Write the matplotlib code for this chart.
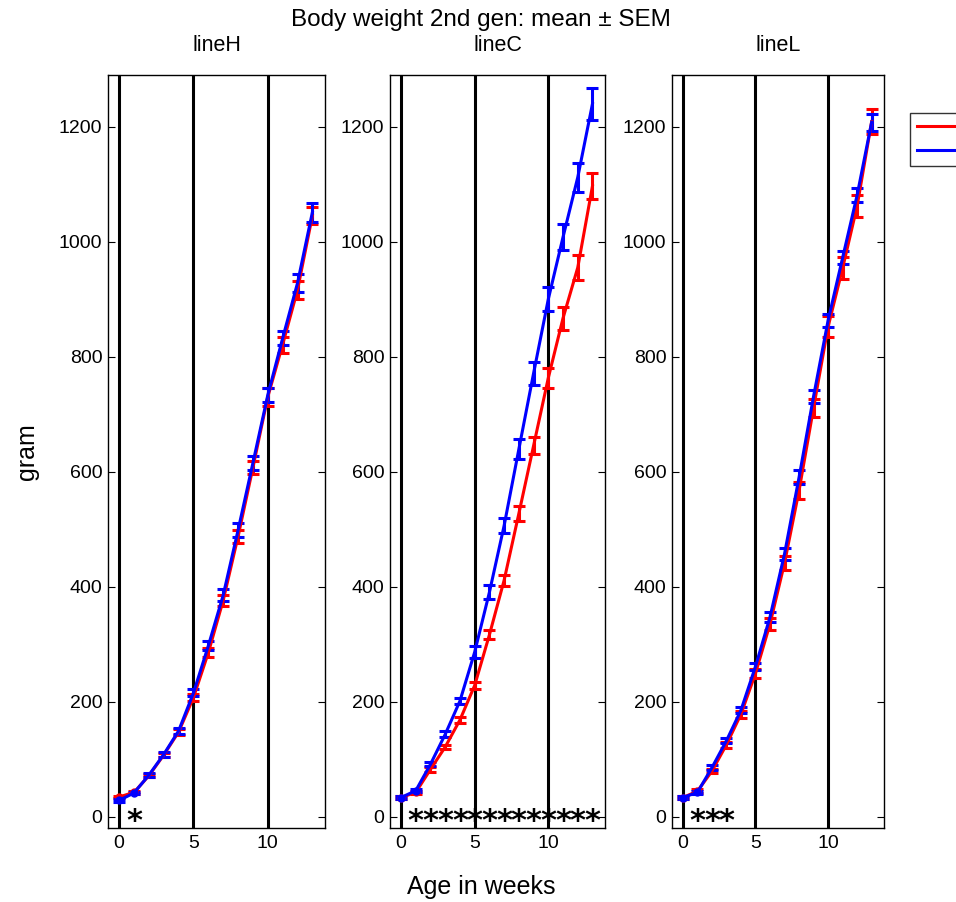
import numpy as np
import matplotlib
matplotlib.use('Agg')
import matplotlib.pyplot as plt

plt.rcParams['font.family'] = ['Liberation Sans', 'DejaVu Sans']

weeks = np.arange(14)

# lineH
h_red      = [34, 42, 71, 107, 147, 207, 285, 376, 487, 607, 730, 821, 916, 1045]
h_red_sem  = [2, 2, 3, 4, 5, 6, 8, 10, 12, 12, 15, 14, 16, 15]
h_blue     = [28, 41, 72, 108, 149, 215, 297, 385, 498, 615, 733, 832, 928, 1051]
h_blue_sem = [2, 2, 3, 4, 5, 6, 8, 10, 12, 12, 12, 12, 15, 16]
h_stars    = [1]

# lineC
c_red      = [33, 42, 82, 121, 168, 228, 316, 411, 527, 645, 763, 867, 955, 1097]
c_red_sem  = [2, 3, 4, 4, 5, 6, 8, 10, 13, 15, 17, 20, 22, 22]
c_blue     = [33, 45, 91, 143, 201, 286, 390, 506, 639, 771, 900, 1008, 1112, 1240]
c_blue_sem = [2, 3, 4, 5, 6, 10, 12, 13, 17, 20, 21, 22, 25, 28]
c_stars    = [1, 2, 3, 4, 5, 6, 7, 8, 9, 10, 11, 12, 13]

# lineL
l_red      = [33, 44, 79, 125, 178, 249, 335, 441, 567, 711, 852, 954, 1062, 1209]
l_red_sem  = [2, 3, 4, 5, 6, 8, 10, 12, 15, 16, 18, 19, 19, 21]
l_blue     = [33, 42, 85, 132, 185, 261, 347, 457, 590, 731, 863, 972, 1081, 1208]
l_blue_sem = [2, 3, 4, 4, 5, 6, 9, 10, 12, 11, 11, 11, 12, 15]
l_stars    = [1, 2, 3]

titles = ['lineH', 'lineC', 'lineL']
panels = [(h_red, h_red_sem, h_blue, h_blue_sem, h_stars),
          (c_red, c_red_sem, c_blue, c_blue_sem, c_stars),
          (l_red, l_red_sem, l_blue, l_blue_sem, l_stars)]
legend_labels = ['female', 'male']

W, H = 956, 902
fig = plt.figure(figsize=(W / 100, H / 100), dpi=100)

# axes boxes in pixels (left, right)
boxes = [(108, 325), (390, 605), (672, 884)]
top_px, bot_px = 75, 828

axes = []
for (l, r), title, (rm, rs, bm, bs, stars) in zip(boxes, titles, panels):
    ax = fig.add_axes([l / W, 1 - bot_px / H, (r - l) / W, (bot_px - top_px) / H])
    for xv in [0, 5, 10]:
        ax.axvline(xv, color='black', lw=2.2, zorder=1)
    for m, s, col in [(rm, rs, 'red'), (bm, bs, 'blue')]:
        ax.errorbar(weeks, m, yerr=s, color=col, lw=2.2, elinewidth=2.2,
                    capsize=4.5, capthick=2.2, zorder=3,
                    marker='o', markersize=5, markevery=[0, 1])
    for sx in stars:
        ax.text(sx, -9, '*', fontsize=22, fontweight='bold', ha='center',
                va='center', family='DejaVu Sans', zorder=4)
    ax.set_xlim(-0.75, 13.85)
    ax.set_ylim(-20, 1290)
    ax.set_xticks([0, 5, 10])
    ax.set_yticks(range(0, 1201, 200))
    ax.tick_params(direction='in', length=5, labelsize=14,
                   left=True, right=True, top=True, bottom=True)
    ax.tick_params(axis='y', pad=4)
    ax.tick_params(axis='x', pad=5)
    ax.set_title(title, fontsize=15.5, pad=17)
    for sp in ax.spines.values():
        sp.set_linewidth(1.0)
    axes.append(ax)

axes[0].set_ylabel('gram', fontsize=18, labelpad=14)

fig.text(0.503, 1 - 20 / H, 'Body weight 2nd gen: mean \u00b1 SEM',
         ha='center', va='center', fontsize=17.5)
fig.text(0.503, 1 - 887 / H, 'Age in weeks', ha='center', va='center', fontsize=18)

# legend, partly outside the figure like the original
handles = [plt.Line2D([], [], color='red', lw=2.2),
           plt.Line2D([], [], color='blue', lw=2.2)]
fig.legend(handles, legend_labels, loc='upper left',
           bbox_to_anchor=(910 / W, 1 - 113 / H), borderaxespad=0,
           frameon=True, fancybox=False, edgecolor='black', fontsize=12,
           handlelength=2.6, borderpad=0.4, labelspacing=0.55)

fig.savefig('out.png', dpi=100)
